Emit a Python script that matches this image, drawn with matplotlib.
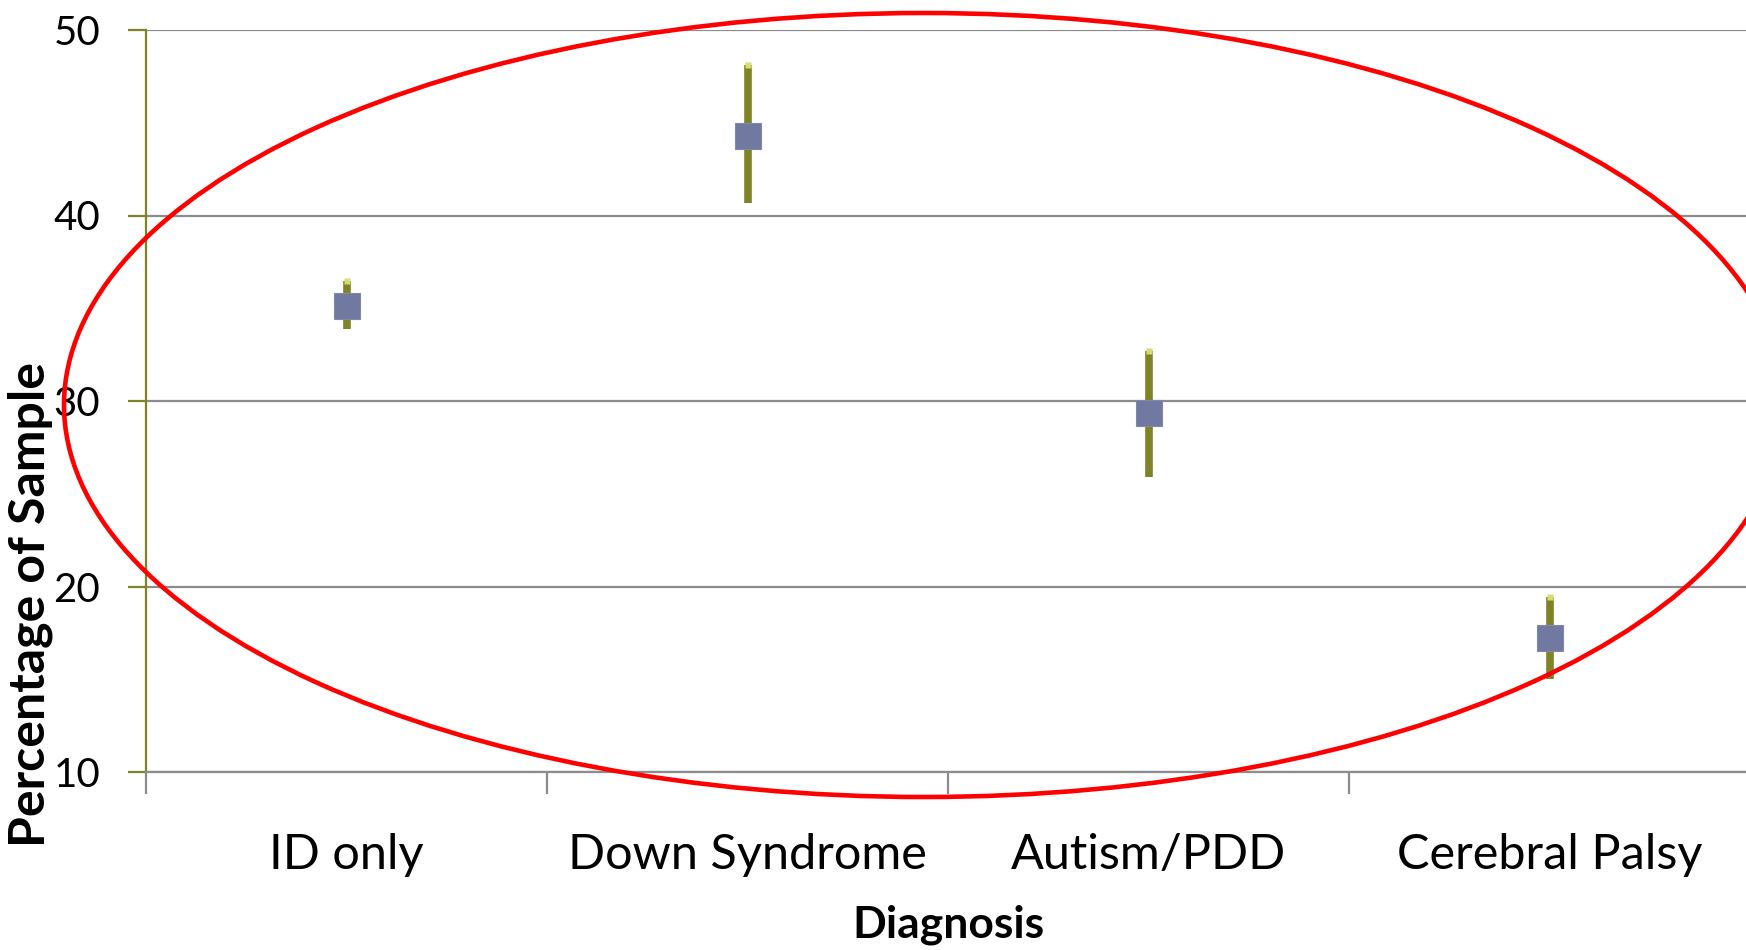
import matplotlib
matplotlib.use("Agg")
import matplotlib.pyplot as plt
from matplotlib.patches import Ellipse
import numpy as np

categories = ["ID only", "Down Syndrome", "Autism/PDD", "Cerebral Palsy"]
means = [35.1, 44.3, 29.35, 17.25]
upper = [36.45, 48.1, 32.7, 19.45]
lower = [33.9, 40.7, 25.9, 15.0]
yticks = [10, 20, 30, 40, 50]

plt.rcParams['font.family'] = ['Lato', 'DejaVu Sans']

fig = plt.figure(figsize=(17.46, 9.5), dpi=100)
ax = fig.add_axes([146/1746, 1-772/950, (1750-146)/1746, (772-30)/950])

x = np.arange(len(categories)) + 0.5
means = np.array(means); upper = np.array(upper); lower = np.array(lower)

olive = '#7f8326'
ax.vlines(x, lower, upper, color=olive, lw=5.5, zorder=3)
ax.plot(x, upper, linestyle='none', marker='s', ms=4.5, color='#d6dc70', mec='none', zorder=3)
ax.plot(x, means, linestyle='none', marker='s', ms=18.5, color='#7179a0', mec='#8088ad', mew=0.8, zorder=4)

ax.set_xlim(0, 4)
ax.set_ylim(10, 50)
ax.set_yticks(yticks)
ax.set_yticklabels([str(v) for v in yticks], fontsize=29)
ax.yaxis.grid(True, color='#8c8c8c', lw=1.6)
ax.set_axisbelow(True)

ax.set_xticks([0, 1, 2, 3, 4])
ax.set_xticklabels([])
ax.set_xticks(x, minor=True)
ax.set_xticklabels(categories, minor=True, fontsize=35)
ax.tick_params(axis='x', which='major', length=16, width=1.6, color='#8c8c8c', direction='out')
ax.tick_params(axis='x', which='minor', length=0, pad=44)
ax.tick_params(axis='y', length=13, width=1.6, color=olive, direction='out', pad=20)

for s in ['top', 'right']:
    ax.spines[s].set_visible(False)
ax.spines['left'].set_color(olive)
ax.spines['left'].set_linewidth(1.6)
ax.spines['bottom'].set_color('#8c8c8c')
ax.spines['bottom'].set_linewidth(1.6)

ax.set_ylabel("Percentage of Sample", fontsize=36, fontweight='bold')
ax.set_xlabel("Diagnosis", fontsize=32, fontweight='bold', labelpad=20)
ax.yaxis.set_label_coords(-0.058, 0.226)

ell = Ellipse((924/1746, 1-405/950), 1720/1746, 784/950, transform=fig.transFigure,
              fill=False, edgecolor='#ff0000', lw=3.3, zorder=10)
fig.add_artist(ell)

fig.savefig("out.png", dpi=100)
